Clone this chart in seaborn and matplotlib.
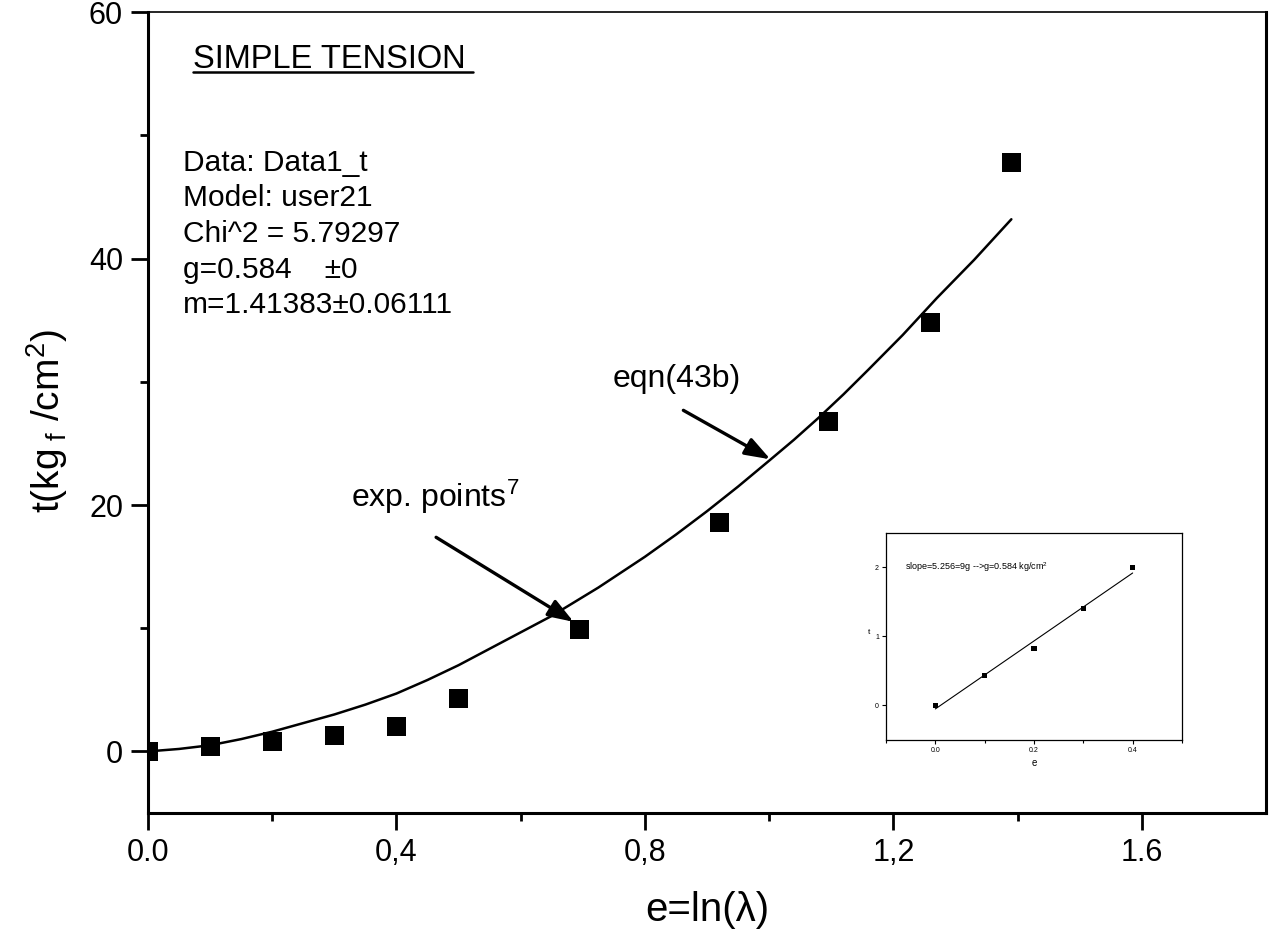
import numpy as np
import pandas as pd
import matplotlib
matplotlib.use("Agg")
import matplotlib.pyplot as plt
import seaborn as sns

# experimental points (main plot)
e_exp = [0.0, 0.1, 0.2, 0.3, 0.4, 0.5, 0.695, 0.92, 1.095, 1.26, 1.39]
t_exp = [0.0, 0.4, 0.8, 1.3, 2.0, 4.3, 9.9, 18.6, 26.8, 34.8, 47.8]

# fitted curve eqn(43b)
e_fit = [0.0, 0.05, 0.1, 0.15, 0.2, 0.25, 0.3, 0.35, 0.4, 0.45, 0.5, 0.575, 0.65,
         0.725, 0.8, 0.85, 0.9, 0.95, 1.0, 1.04, 1.08, 1.12, 1.16, 1.215, 1.27, 1.33, 1.39]
t_fit = [0.0, 0.2, 0.5, 1.0, 1.6, 2.3, 3.0, 3.8, 4.7, 5.8, 7.0, 9.0, 11.0,
         13.3, 15.8, 17.6, 19.5, 21.5, 23.6, 25.3, 27.1, 29.0, 31.0, 33.8, 36.8, 39.9, 43.2]

# inset data
e_in = [0.0, 0.1, 0.2, 0.3, 0.4]
t_in = [0.0, 0.43, 0.82, 1.40, 2.0]
e_in_fit = [0.0, 0.4]
t_in_fit = [-0.05, 1.92]

xtick_vals = [0.0, 0.4, 0.8, 1.2, 1.6]
xtick_labels = ["0.0", "0,4", "0,8", "1,2", "1.6"]
ytick_vals = [0, 20, 40, 60]

fit_info = ["Data: Data1_t", "Model: user21", "Chi^2 = 5.79297",
            "g=0.584    \u00b10", "m=1.41383\u00b10.06111"]

sns.set_theme(style="ticks")
plt.rcParams["font.family"] = ["Liberation Sans", "DejaVu Sans"]
plt.rcParams["mathtext.fontset"] = "custom"
plt.rcParams["mathtext.rm"] = "Liberation Sans"
plt.rcParams["mathtext.it"] = "Liberation Sans:italic"
plt.rcParams["text.color"] = "black"
plt.rcParams["axes.labelcolor"] = "black"

fig = plt.figure(figsize=(12.73, 9.47), dpi=100)
ax = fig.add_axes([0.1163, 0.1415, 0.8782, 0.8455])

df_exp = pd.DataFrame({"e": e_exp, "t": t_exp})
df_fit = pd.DataFrame({"e": e_fit, "t": t_fit})
sns.lineplot(data=df_fit, x="e", y="t", ax=ax, color="black", lw=1.8, sort=True)
sns.scatterplot(data=df_exp, x="e", y="t", ax=ax, marker="s", s=190,
                color="black", edgecolor="none", zorder=5)

ax.set_xlim(0, 1.8)
ax.set_ylim(-5, 60)
ax.set_xticks(xtick_vals)
ax.set_xticklabels(xtick_labels)
ax.set_xticks([0.2, 0.6, 1.0, 1.4], minor=True)
ax.set_yticks(ytick_vals)
ax.set_yticks([10, 30, 50], minor=True)
ax.tick_params(which="major", direction="out", length=12, width=2,
               labelsize=22, pad=6, colors="black")
ax.tick_params(which="minor", direction="out", length=6, width=2, colors="black")
for sp in ax.spines.values():
    sp.set_linewidth(2.2)
    sp.set_color("black")
ax.spines["top"].set_linewidth(1.2)

ax.set_xlabel("e=ln(\u03bb)", fontsize=29)
ax.xaxis.set_label_coords(0.5, -0.098)
ax.set_ylabel(r"t(kg$_{\ \mathrm{f}}$ /cm$^2$)", fontsize=28)
ax.yaxis.set_label_coords(-0.07, 0.49)

# header text block
ax.text(0.0726, 56.2, "SIMPLE TENSION", fontsize=23.5, va="center", ha="left")
ax.plot([0.040, 0.291], [0.925, 0.925], transform=ax.transAxes, color="black", lw=1.8)
for i, line in enumerate(fit_info):
    ax.text(0.056, 47.8 - 2.9 * i, line, fontsize=21.5, va="center", ha="left")

# annotations with arrows
ax.text(0.326, 20.7, r"exp. points$^7$", fontsize=23, va="center", ha="left")
ax.annotate("", xy=(0.689, 10.4), xytext=(0.46, 17.5),
            arrowprops=dict(arrowstyle="-|>,head_length=0.7,head_width=0.25",
                            lw=2.4, mutation_scale=22, color="black"))
ax.text(0.748, 30.2, "eqn(43b)", fontsize=23, va="center", ha="left")
ax.annotate("", xy=(1.006, 23.6), xytext=(0.858, 27.8),
            arrowprops=dict(arrowstyle="-|>,head_length=0.7,head_width=0.25",
                            lw=2.4, mutation_scale=22, color="black"))

# inset
axi = fig.add_axes([0.696, 0.2186, 0.2325, 0.2186])
df_in = pd.DataFrame({"e": e_in, "t": t_in})
df_in_fit = pd.DataFrame({"e": e_in_fit, "t": t_in_fit})
sns.lineplot(data=df_in_fit, x="e", y="t", ax=axi, color="black", lw=0.8)
sns.scatterplot(data=df_in, x="e", y="t", ax=axi, marker="s", s=14,
                color="black", edgecolor="none", zorder=5)
axi.set_xlim(-0.1, 0.5)
axi.set_ylim(-0.5, 2.5)
axi.set_xticks([0.0, 0.2, 0.4])
axi.set_xticklabels(["0.0", "0.2", "0.4"])
axi.set_xticks([-0.1, 0.1, 0.3, 0.5], minor=True)
axi.set_yticks([0, 1, 2])
axi.tick_params(which="major", direction="out", length=3, width=0.8,
                labelsize=5, pad=2, colors="black")
axi.tick_params(which="minor", direction="out", length=2, width=0.8, colors="black")
for sp in axi.spines.values():
    sp.set_linewidth(0.9)
    sp.set_color("black")
axi.set_xlabel("e", fontsize=7, labelpad=3)
axi.set_ylabel("t", fontsize=6, labelpad=4, rotation=0)
axi.text(-0.062, 2.0, r"slope=5.256=9g -->g=0.584 kg/cm$^2$", fontsize=6.5,
         va="center", ha="left")

fig.savefig("out.png", dpi=100)
